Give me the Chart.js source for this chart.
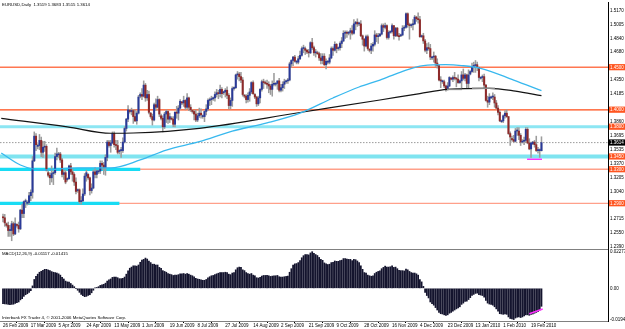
<!DOCTYPE html>
<html><head><meta charset="utf-8">
<script src="https://cdn.jsdelivr.net/npm/chart.js"></script>
<style>
html,body{margin:0;padding:0;background:#fff;width:625px;height:329px;overflow:hidden;position:relative;font-family:"Liberation Sans",Arial,sans-serif;}
#mainWrap{position:absolute;left:0;top:-2px;width:625px;height:255px;}
#macdWrap{position:absolute;left:0;top:244px;width:625px;height:85px;}
.txt{position:absolute;left:2px;font-size:6px;line-height:6px;color:#000;white-space:nowrap;transform:scale(0.72);transform-origin:left top;}
#sep{position:absolute;left:0;top:249px;width:608px;height:1px;background:#808080;}
</style></head><body>
<div id="mainWrap"><canvas id="main"></canvas></div>
<div id="macdWrap"><canvas id="macd"></canvas></div>
<div id="sep"></div>
<div class="txt" style="top:2px">EURUSD,Daily&nbsp; 1.3519 1.3683 1.3515 1.3614</div>
<div class="txt" style="top:251px">MACD(12,26,9) -0.01117 -0.01415</div>
<div class="txt" style="top:315px">Interbank FX Trader 4, © 2001-2006 MetaQuotes Software Corp.</div>
<script>
// ---- daily bars (incl. Sunday bars), 26 Feb 2009 .. 26 Feb 2010 ----
const opens=[
1.2740,1.2730,1.2660,1.2640,1.2580,1.2580,1.2660,1.2540,1.2650,1.2640,
1.2600,1.2820,1.2780,1.2920,1.2900,1.2910,1.2990,1.3030,1.3400,1.3690,
1.3570,1.3580,1.3640,1.3500,1.3560,1.3570,1.3260,1.3230,1.3200,1.3250,
1.3260,1.3450,1.3470,1.3480,1.3410,1.3240,1.3260,1.3180,1.3190,1.3340,
1.3270,1.3240,1.3150,1.3050,1.3060,1.2920,1.2930,1.3010,1.3220,1.3240,
1.3200,1.3050,1.3080,1.3270,1.3240,1.3270,1.3280,1.3370,1.3350,1.3320,
1.3440,1.3620,1.3580,1.3610,1.3720,1.3590,1.3580,1.3510,1.3520,1.3520,
1.3620,1.3780,1.3890,1.3990,1.3980,1.3990,1.3920,1.3870,1.3960,1.4160,
1.4180,1.4160,1.4290,1.4140,1.4180,1.3960,1.3920,1.3880,1.4060,1.4030,
1.4120,1.3930,1.3900,1.3800,1.3950,1.3980,1.3890,1.3900,1.3890,1.3830,
1.3970,1.3960,1.4020,1.4090,1.4080,1.4110,1.4030,1.4140,1.4030,1.3990,
1.3980,1.3950,1.3880,1.3930,1.3960,1.3920,1.3920,1.3980,1.4010,1.4110,
1.4120,1.4130,1.4140,1.4180,1.4200,1.4190,1.4240,1.4200,1.4210,1.4230,
1.4170,1.4050,1.4110,1.4250,1.4260,1.4410,1.4420,1.4390,1.4350,1.4170,
1.4160,1.4120,1.4170,1.4210,1.4320,1.4180,1.4150,1.4070,1.4140,1.4240,
1.4330,1.4320,1.4310,1.4300,1.4280,1.4240,1.4300,1.4300,1.4310,1.4340,
1.4230,1.4260,1.4300,1.4330,1.4340,1.4350,1.4540,1.4580,1.4620,1.4560,
1.4560,1.4600,1.4640,1.4720,1.4720,1.4700,1.4680,1.4670,1.4790,1.4730,
1.4670,1.4670,1.4660,1.4610,1.4580,1.4630,1.4530,1.4560,1.4560,1.4610,
1.4720,1.4700,1.4770,1.4720,1.4730,1.4780,1.4810,1.4900,1.4910,1.4900,
1.4910,1.4930,1.4900,1.5010,1.5030,1.5010,1.5010,1.4870,1.4830,1.4750,
1.4860,1.4710,1.4700,1.4750,1.4770,1.4880,1.4860,1.4870,1.4890,1.4990,
1.4970,1.4990,1.4850,1.4910,1.4920,1.4990,1.4870,1.4960,1.4870,1.4870,
1.4880,1.4960,1.4970,1.5130,1.5000,1.4990,1.5000,1.5010,1.5090,1.5070,
1.5060,1.4860,1.4870,1.4810,1.4700,1.4730,1.4720,1.4610,1.4620,1.4630,
1.4550,1.4520,1.4350,1.4330,1.4330,1.4280,1.4240,1.4280,1.4370,1.4360,
1.4380,1.4370,1.4360,1.4320,1.4340,1.4410,1.4370,1.4410,1.4310,1.4420,
1.4450,1.4510,1.4520,1.4530,1.4500,1.4370,1.4380,1.4390,1.4290,1.4110,
1.4090,1.4140,1.4150,1.4150,1.4080,1.4020,1.3970,1.3860,1.3870,1.3930,
1.3960,1.3920,1.3720,1.3660,1.3650,1.3630,1.3750,1.3750,1.3700,1.3620,
1.3630,1.3640,1.3770,1.3610,1.3540,1.3600,1.3620,1.3590,1.3520,1.3520,1.3519];
const highs=[
1.2775,1.2770,1.2670,1.2680,1.2640,1.2690,1.2680,1.2730,1.2660,1.2680,
1.2830,1.2890,1.2930,1.2950,1.2930,1.3030,1.3060,1.3450,1.3740,1.3720,
1.3600,1.3710,1.3680,1.3630,1.3630,1.3590,1.3280,1.3260,1.3340,1.3280,
1.3490,1.3550,1.3500,1.3500,1.3430,1.3290,1.3290,1.3200,1.3350,1.3370,
1.3310,1.3260,1.3200,1.3070,1.3070,1.2980,1.3070,1.3250,1.3290,1.3250,
1.3210,1.3130,1.3290,1.3320,1.3290,1.3290,1.3400,1.3400,1.3380,1.3470,
1.3640,1.3640,1.3640,1.3740,1.3740,1.3640,1.3640,1.3530,1.3560,1.3670,
1.3800,1.3900,1.4050,1.4000,1.4020,1.4000,1.4000,1.3980,1.4170,1.4200,
1.4250,1.4340,1.4310,1.4230,1.4220,1.3970,1.3950,1.4080,1.4130,1.4160,
1.4130,1.3950,1.3930,1.3970,1.4000,1.3990,1.3960,1.3920,1.3920,1.3980,
1.4040,1.4050,1.4120,1.4100,1.4160,1.4120,1.4190,1.4150,1.4060,1.4000,
1.3990,1.4000,1.3960,1.4020,1.4010,1.3940,1.3990,1.4060,1.4130,1.4140,
1.4160,1.4150,1.4210,1.4240,1.4230,1.4290,1.4260,1.4220,1.4250,1.4270,
1.4190,1.4140,1.4270,1.4270,1.4420,1.4450,1.4440,1.4440,1.4380,1.4180,
1.4180,1.4200,1.4250,1.4330,1.4340,1.4190,1.4160,1.4160,1.4250,1.4350,
1.4360,1.4340,1.4350,1.4330,1.4300,1.4340,1.4430,1.4320,1.4340,1.4370,
1.4300,1.4330,1.4360,1.4350,1.4370,1.4560,1.4590,1.4630,1.4640,1.4580,
1.4630,1.4690,1.4740,1.4760,1.4740,1.4710,1.4710,1.4800,1.4840,1.4750,
1.4710,1.4690,1.4680,1.4660,1.4660,1.4660,1.4600,1.4580,1.4650,1.4740,
1.4740,1.4800,1.4780,1.4740,1.4800,1.4850,1.4930,1.4930,1.4930,1.4920,
1.4960,1.4990,1.5060,1.5040,1.5070,1.5030,1.5050,1.4880,1.4840,1.4880,
1.4880,1.4720,1.4780,1.4790,1.4930,1.4900,1.4900,1.4900,1.5010,1.5010,
1.5020,1.5000,1.4930,1.4930,1.5010,1.4990,1.4970,1.4970,1.4900,1.4890,
1.4990,1.4990,1.5140,1.5140,1.5020,1.5010,1.5060,1.5110,1.5100,1.5140,
1.5100,1.4880,1.4900,1.4830,1.4780,1.4790,1.4770,1.4630,1.4680,1.4640,
1.4600,1.4530,1.4390,1.4350,1.4350,1.4290,1.4320,1.4390,1.4380,1.4400,
1.4440,1.4380,1.4410,1.4350,1.4450,1.4480,1.4430,1.4420,1.4470,1.4460,
1.4550,1.4560,1.4580,1.4560,1.4500,1.4390,1.4410,1.4420,1.4300,1.4160,
1.4190,1.4160,1.4200,1.4180,1.4110,1.4050,1.3990,1.3880,1.3940,1.3990,
1.4000,1.3920,1.3740,1.3690,1.3700,1.3780,1.3790,1.3790,1.3720,1.3650,
1.3680,1.3790,1.3790,1.3660,1.3620,1.3630,1.3640,1.3690,1.3560,1.3540,1.3683];
const lows=[
1.2680,1.2630,1.2620,1.2510,1.2510,1.2460,1.2520,1.2530,1.2620,1.2560,
1.2590,1.2730,1.2730,1.2850,1.2880,1.2890,1.2930,1.2960,1.3390,1.3520,
1.3540,1.3530,1.3450,1.3440,1.3510,1.3280,1.3210,1.3120,1.3150,1.3120,
1.3240,1.3410,1.3440,1.3380,1.3210,1.3180,1.3130,1.3160,1.3180,1.3240,
1.3160,1.3110,1.3010,1.3030,1.2900,1.2890,1.2920,1.2990,1.3160,1.3180,
1.3000,1.3020,1.3070,1.3200,1.3200,1.3250,1.3250,1.3300,1.3240,1.3230,
1.3400,1.3560,1.3500,1.3600,1.3560,1.3530,1.3480,1.3480,1.3440,1.3500,
1.3610,1.3750,1.3860,1.3960,1.3940,1.3840,1.3860,1.3830,1.3950,1.4140,
1.4120,1.4150,1.4100,1.4110,1.3950,1.3900,1.3820,1.3870,1.3990,1.4020,
1.3920,1.3880,1.3740,1.3780,1.3850,1.3840,1.3850,1.3880,1.3800,1.3800,
1.3900,1.3880,1.4000,1.4060,1.4040,1.4000,1.4010,1.3990,1.3980,1.3960,
1.3880,1.3860,1.3860,1.3910,1.3900,1.3900,1.3860,1.3940,1.3990,1.4050,
1.4060,1.4110,1.4100,1.4150,1.4130,1.4150,1.4140,1.4180,1.4150,1.4130,
1.4010,1.4010,1.4040,1.4230,1.4250,1.4360,1.4340,1.4320,1.4160,1.4140,
1.4080,1.4090,1.4100,1.4190,1.4180,1.4130,1.4040,1.4050,1.4080,1.4220,
1.4250,1.4300,1.4250,1.4200,1.4180,1.4160,1.4280,1.4280,1.4240,1.4210,
1.4210,1.4220,1.4250,1.4310,1.4310,1.4340,1.4500,1.4520,1.4560,1.4540,
1.4540,1.4590,1.4630,1.4670,1.4650,1.4660,1.4620,1.4660,1.4710,1.4640,
1.4620,1.4650,1.4580,1.4540,1.4540,1.4520,1.4480,1.4540,1.4540,1.4600,
1.4640,1.4690,1.4670,1.4700,1.4700,1.4730,1.4800,1.4840,1.4850,1.4880,
1.4830,1.4880,1.4890,1.4940,1.4980,1.4990,1.4860,1.4760,1.4690,1.4740,
1.4700,1.4680,1.4660,1.4690,1.4750,1.4800,1.4780,1.4860,1.4880,1.4920,
1.4950,1.4830,1.4830,1.4900,1.4900,1.4830,1.4860,1.4860,1.4820,1.4860,
1.4870,1.4930,1.4960,1.4970,1.4830,1.4970,1.4940,1.5000,1.5040,1.5020,
1.4850,1.4850,1.4780,1.4680,1.4660,1.4700,1.4590,1.4590,1.4560,1.4510,
1.4490,1.4340,1.4260,1.4310,1.4260,1.4220,1.4230,1.4270,1.4350,1.4330,
1.4350,1.4270,1.4310,1.4310,1.4260,1.4350,1.4340,1.4260,1.4260,1.4410,
1.4440,1.4440,1.4440,1.4460,1.4340,1.4360,1.4330,1.4260,1.4100,1.4030,
1.4060,1.4130,1.4120,1.4030,1.4010,1.3940,1.3860,1.3850,1.3850,1.3900,
1.3910,1.3710,1.3580,1.3630,1.3620,1.3620,1.3700,1.3650,1.3580,1.3610,
1.3590,1.3620,1.3600,1.3530,1.3440,1.3590,1.3560,1.3510,1.3490,1.3440,1.3515];
const closes=[
1.2730,1.2670,1.2640,1.2580,1.2580,1.2660,1.2540,1.2660,1.2640,1.2600,
1.2820,1.2780,1.2920,1.2920,1.2910,1.2990,1.3030,1.3400,1.3690,1.3590,
1.3580,1.3640,1.3500,1.3560,1.3570,1.3290,1.3230,1.3200,1.3250,1.3260,
1.3450,1.3480,1.3480,1.3410,1.3240,1.3260,1.3150,1.3190,1.3340,1.3270,
1.3240,1.3150,1.3040,1.3060,1.2920,1.2930,1.3010,1.3220,1.3260,1.3200,
1.3050,1.3080,1.3270,1.3240,1.3280,1.3280,1.3370,1.3350,1.3320,1.3440,
1.3620,1.3580,1.3610,1.3720,1.3590,1.3580,1.3500,1.3520,1.3520,1.3620,
1.3780,1.3890,1.4000,1.3980,1.3990,1.3920,1.3870,1.3960,1.4150,1.4180,
1.4160,1.4290,1.4140,1.4180,1.3970,1.3920,1.3880,1.4060,1.4030,1.4120,
1.3950,1.3900,1.3800,1.3950,1.3980,1.3890,1.3920,1.3890,1.3830,1.3970,
1.3960,1.4020,1.4100,1.4080,1.4110,1.4030,1.4140,1.4030,1.4000,1.3980,
1.3950,1.3880,1.3930,1.3960,1.3940,1.3920,1.3980,1.4010,1.4110,1.4120,
1.4130,1.4140,1.4180,1.4200,1.4190,1.4240,1.4190,1.4210,1.4230,1.4170,
1.4050,1.4110,1.4250,1.4260,1.4410,1.4420,1.4390,1.4350,1.4180,1.4160,
1.4120,1.4170,1.4210,1.4320,1.4190,1.4150,1.4070,1.4140,1.4240,1.4330,
1.4320,1.4310,1.4300,1.4280,1.4240,1.4300,1.4310,1.4310,1.4340,1.4230,
1.4260,1.4300,1.4330,1.4340,1.4350,1.4540,1.4580,1.4620,1.4570,1.4560,
1.4600,1.4640,1.4720,1.4720,1.4700,1.4680,1.4670,1.4790,1.4730,1.4670,
1.4680,1.4660,1.4610,1.4580,1.4630,1.4530,1.4570,1.4560,1.4610,1.4720,
1.4700,1.4770,1.4720,1.4730,1.4780,1.4810,1.4900,1.4910,1.4900,1.4910,
1.4930,1.4900,1.5010,1.5030,1.5010,1.5010,1.4870,1.4830,1.4750,1.4860,
1.4720,1.4700,1.4750,1.4770,1.4880,1.4860,1.4860,1.4890,1.4990,1.4970,
1.4990,1.4850,1.4910,1.4920,1.4990,1.4870,1.4960,1.4870,1.4860,1.4880,
1.4960,1.4970,1.5130,1.5000,1.4990,1.5000,1.5010,1.5090,1.5070,1.5060,
1.4860,1.4870,1.4810,1.4700,1.4730,1.4720,1.4620,1.4620,1.4630,1.4550,
1.4520,1.4350,1.4340,1.4330,1.4280,1.4240,1.4280,1.4380,1.4360,1.4380,
1.4370,1.4360,1.4320,1.4340,1.4410,1.4370,1.4410,1.4310,1.4410,1.4450,
1.4510,1.4520,1.4530,1.4500,1.4380,1.4380,1.4390,1.4290,1.4110,1.4090,
1.4150,1.4150,1.4150,1.4080,1.4020,1.3970,1.3870,1.3870,1.3930,1.3960,
1.3920,1.3720,1.3680,1.3650,1.3630,1.3750,1.3750,1.3700,1.3620,1.3630,
1.3640,1.3770,1.3610,1.3540,1.3610,1.3620,1.3590,1.3520,1.3520,1.3520,1.3614];
// ---- MACD(12,26,9) main histogram ----
const macdHist=[
-0.0095,-0.0097,-0.0098,-0.0100,-0.0102,-0.0100,-0.0099,-0.0094,-0.0090,-0.0085,
-0.0072,-0.0064,-0.0050,-0.0040,-0.0034,-0.0025,-0.0015,0.0015,0.0055,0.0075,
0.0088,0.0100,0.0106,0.0112,0.0118,0.0118,0.0114,0.0110,0.0104,0.0100,
0.0098,0.0095,0.0090,0.0082,0.0068,0.0058,0.0045,0.0040,0.0038,0.0030,
0.0020,0.0010,0.0000,-0.0012,-0.0025,-0.0038,-0.0046,-0.0052,-0.0050,-0.0045,
-0.0040,-0.0028,-0.0012,0.0002,0.0005,0.0010,0.0018,0.0022,0.0025,0.0032,
0.0045,0.0052,0.0058,0.0068,0.0070,0.0070,0.0066,0.0060,0.0060,0.0062,
0.0070,0.0088,0.0108,0.0125,0.0132,0.0140,0.0140,0.0138,0.0145,0.0162,
0.0175,0.0180,0.0188,0.0182,0.0170,0.0160,0.0150,0.0150,0.0145,0.0145,
0.0130,0.0125,0.0110,0.0105,0.0100,0.0092,0.0088,0.0085,0.0080,0.0082,
0.0082,0.0085,0.0090,0.0090,0.0092,0.0088,0.0092,0.0088,0.0082,0.0078,
0.0072,0.0062,0.0058,0.0056,0.0052,0.0050,0.0050,0.0055,0.0065,0.0072,
0.0078,0.0080,0.0085,0.0090,0.0094,0.0098,0.0098,0.0098,0.0100,0.0098,
0.0088,0.0085,0.0095,0.0098,0.0115,0.0128,0.0132,0.0130,0.0115,0.0110,
0.0098,0.0092,0.0088,0.0092,0.0082,0.0078,0.0066,0.0064,0.0068,0.0076,
0.0080,0.0080,0.0080,0.0078,0.0074,0.0076,0.0078,0.0078,0.0080,0.0072,
0.0070,0.0070,0.0072,0.0074,0.0076,0.0100,0.0122,0.0145,0.0152,0.0154,
0.0160,0.0172,0.0190,0.0203,0.0210,0.0210,0.0208,0.0220,0.02277,0.0218,
0.0210,0.0204,0.0192,0.0180,0.0174,0.0158,0.0152,0.0148,0.0150,0.0160,
0.0162,0.0170,0.0168,0.0168,0.0172,0.0175,0.0185,0.0185,0.0182,0.0180,
0.0180,0.0172,0.0180,0.0178,0.0170,0.0160,0.0140,0.0118,0.0098,0.0095,
0.0082,0.0078,0.0075,0.0078,0.0092,0.0100,0.0105,0.0108,0.0122,0.0130,
0.0138,0.0132,0.0132,0.0134,0.0140,0.0130,0.0132,0.0122,0.0112,0.0110,
0.0110,0.0108,0.0120,0.0115,0.0105,0.0098,0.0095,0.0095,0.0090,0.0082,
0.0055,0.0040,0.0012,-0.0025,-0.0045,-0.0060,-0.0085,-0.0095,-0.0105,-0.0120,
-0.0135,-0.0150,-0.0158,-0.0160,-0.0165,-0.0168,-0.0165,-0.0155,-0.0150,-0.0142,
-0.0135,-0.0128,-0.0122,-0.0115,-0.0100,-0.0092,-0.0082,-0.0080,-0.0070,-0.0058,
-0.0045,-0.0038,-0.0032,-0.0030,-0.0040,-0.0042,-0.0045,-0.0055,-0.0075,-0.0092,
-0.0098,-0.0100,-0.0105,-0.0115,-0.0128,-0.0142,-0.0158,-0.0160,-0.0162,-0.0160,
-0.0162,-0.0178,-0.0188,-0.0190,-0.01944,-0.0185,-0.0180,-0.0178,-0.0182,-0.0178,
-0.0172,-0.0165,-0.0165,-0.0168,-0.0162,-0.0160,-0.0155,-0.0150,-0.0145,-0.0135,-0.0112];
// ---- moving averages read at sample bars ----
const blueMaIdx=[-1,10,23,43,62,79,94,113,132,152,171,190,205,217,229,242,255,264,275,294,310];
const blueMaVal=[1.3492,1.3351,1.3292,1.3316,1.3316,1.3410,1.3527,1.3625,1.3750,1.3845,1.3960,1.4139,1.4268,1.4350,1.4444,1.4520,1.4530,1.4520,1.4488,1.4350,1.4225];
const blackMaIdx=[-1,37,62,75,113,171,217,240,256,280,295,310];
const blackMaVal=[1.3900,1.3800,1.3724,1.3727,1.3782,1.3968,1.4115,1.4191,1.4240,1.4253,1.4220,1.4166];
// ---- horizontal levels & drawn objects ----
const levelPrices=[1.4500,1.4000,1.3800,1.3450,1.3300,1.2900];
const currentPrice=1.3614;
const cyanSegEndIdx=[79,67];          // thick cyan parts of 1.3300 and 1.2900 lines
const grayNeckIdx=[[255.6,264.2],[270,283.2]];
const grayNeckVal=[1.4240,1.4253];
const magentaIdx=[301.7,310.3], magentaVal=1.3418;
const macdMagIdx=[303,310.7], macdMagVal=[-0.01586,-0.01289];
// ---- ticks ----
const priceTicks=[1.5170,1.5005,1.4840,1.4680,1.4350,1.4185,1.3860,1.3695,1.3535,1.3370,1.3205,1.3040,1.2715,1.2550,1.2390];
const macdTicks=[0.02277,0,-0.01944];
const dateTickIdx=[0,16,32,48,64,80,96,112,128,144,160,176,192,208,224,240,256,272,288,304];
const dateTickLabels=['26 Feb 2009','17 Mar 2009','5 Apr 2009','24 Apr 2009','13 May 2009','1 Jun 2009','19 Jun 2009','8 Jul 2009','27 Jul 2009','14 Aug 2009','2 Sep 2009','21 Sep 2009','9 Oct 2009','28 Oct 2009','16 Nov 2009','4 Dec 2009','23 Dec 2009','13 Jan 2010','1 Feb 2010','19 Feb 2010'];

// ---- layout constants ----
const X_MIN=-1.73, X_MAX=348.3;
const Y_MIN=1.23629, Y_MAX=1.52676;
const M_MIN=-0.02034, M_MAX=0.02383;
const BULL='#2a3a98', BEAR='#8e2a2a', WICK='#9c9c9c', LVL='#ff5520';
const FONT={family:'"Liberation Sans", Arial, sans-serif', size:4.5};

const idx=closes.map((_,i)=>i);
const wickData=idx.map(i=>({x:i,y:[lows[i],highs[i]]}));
const bodyData=idx.map(i=>({x:i,y:[Math.min(opens[i],closes[i]),Math.max(opens[i],closes[i])]}));
const bodyColors=idx.map(i=>closes[i]>=opens[i]?BULL:BEAR);

function seg(x0,x1,y,color,w,dash,order){
  return {type:'line',data:[{x:x0,y:y},{x:x1,y:y}],borderColor:color,borderWidth:w,borderDash:dash||[],pointRadius:0,order:order==null?10:order,tension:0};
}
const lvlStyles=[
  [{c:'rgba(255,95,50,0.85)',w:1.3}],
  [{c:'#ff4a14',w:1.3}],
  [{c:'#8ce6f3',w:3},{c:'#c8582a',w:1,d:[1,1]}],
  [{c:'#7fe4f0',w:4},{c:'#5e9482',w:2.2}],
  [{c:'#ffa08a',w:1.4}],
  [{c:'#ffa08a',w:1.4}]
];
const lineSets=[];
levelPrices.forEach((p,k)=>lvlStyles[k].forEach(s=>lineSets.push(seg(X_MIN,X_MAX,p,s.c,s.w,s.d))));
lineSets.push(seg(X_MIN,cyanSegEndIdx[0],levelPrices[4],'#18dcf4',3.2,null,9));
lineSets.push(seg(X_MIN,cyanSegEndIdx[1],levelPrices[5],'#18dcf4',3.2,null,9));
lineSets.push(seg(X_MIN,X_MAX,currentPrice,'#9a9a9a',1,[1.5,1.5]));
grayNeckIdx.forEach((r,k)=>lineSets.push(seg(r[0],r[1],grayNeckVal[k],'#8a8a8a',1.5,null,1)));
lineSets.push(seg(magentaIdx[0],magentaIdx[1],magentaVal,'#ff30ff',1.5,null,1));

function tickKind(v){
  if(Math.abs(v-currentPrice)<1e-7) return 'cur';
  if(levelPrices.some(p=>Math.abs(p-v)<1e-7)) return 'lvl';
  return 'reg';
}
const allPriceTicks=priceTicks.concat(levelPrices,[currentPrice]).sort((a,b)=>b-a);

new Chart(document.getElementById('main'),{
  type:'bar',
  data:{datasets:[
    ...lineSets,
    {type:'line',data:blueMaIdx.map((x,k)=>({x:x,y:blueMaVal[k]})),borderColor:'#38b8ee',borderWidth:1.3,pointRadius:0,cubicInterpolationMode:'monotone',order:2},
    {type:'line',data:blackMaIdx.map((x,k)=>({x:x,y:blackMaVal[k]})),borderColor:'#141414',borderWidth:1.2,pointRadius:0,cubicInterpolationMode:'monotone',order:2},
    {type:'bar',data:wickData,backgroundColor:WICK,barThickness:0.9,grouped:false,borderWidth:0,order:4},
    {type:'bar',data:bodyData,backgroundColor:bodyColors,barThickness:1.4,grouped:false,borderWidth:0,minBarLength:1,order:3}
  ]},
  options:{
    responsive:true,maintainAspectRatio:false,animation:false,
    layout:{padding:{left:0,right:0,top:4,bottom:4}},
    plugins:{legend:{display:false},tooltip:{enabled:false}},
    scales:{
      x:{type:'linear',min:X_MIN,max:X_MAX,offset:false,display:false},
      y:{position:'right',min:Y_MIN,max:Y_MAX,
        afterBuildTicks:s=>{s.ticks=allPriceTicks.map(v=>({value:v}));},
        afterFit:s=>{s.width=17;},
        grid:{drawOnChartArea:false,drawTicks:true,tickLength:1,color:'#000'},
        border:{display:true,color:'#000',width:1},
        ticks:{autoSkip:false,padding:1,font:FONT,
          callback:v=>Number(v).toFixed(4),
          color:c=>tickKind(c.tick.value)==='reg'?'#000':'#fff',
          showLabelBackdrop:c=>tickKind(c.tick.value)!=='reg',
          backdropColor:c=>tickKind(c.tick.value)==='cur'?'#000':LVL,
          backdropPadding:{top:0.5,bottom:0.3,left:1,right:6}}
      }
    }
  }
});

new Chart(document.getElementById('macd'),{
  type:'bar',
  data:{datasets:[
    {type:'line',data:[{x:macdMagIdx[0],y:macdMagVal[0]},{x:macdMagIdx[1],y:macdMagVal[1]}],borderColor:'#ff30ff',borderWidth:1.5,pointRadius:0,order:1},
    {type:'bar',data:idx.map(i=>({x:i,y:macdHist[i]})),backgroundColor:'#14142e',barThickness:1.1,grouped:false,borderWidth:0,order:2}
  ]},
  options:{
    responsive:true,maintainAspectRatio:false,animation:false,
    layout:{padding:{left:0,right:0,top:6,bottom:0}},
    plugins:{legend:{display:false},tooltip:{enabled:false}},
    scales:{
      x:{type:'linear',min:X_MIN,max:X_MAX,offset:false,position:'bottom',
        afterBuildTicks:s=>{s.ticks=dateTickIdx.map(v=>({value:v}));},
        afterFit:s=>{s.height=8;},
        grid:{drawOnChartArea:false,drawTicks:true,tickLength:2,color:'#000'},
        border:{display:true,color:'#808080',width:1},
        ticks:{autoSkip:false,maxRotation:0,minRotation:0,align:'start',padding:0,font:FONT,color:'#000',
          callback:(v,i)=>dateTickLabels[i]}
      },
      y:{position:'right',min:M_MIN,max:M_MAX,
        afterBuildTicks:s=>{s.ticks=macdTicks.map(v=>({value:v}));},
        afterFit:s=>{s.width=17;},
        grid:{drawOnChartArea:false,drawTicks:true,tickLength:1,color:'#000'},
        border:{display:true,color:'#000',width:1},
        ticks:{autoSkip:false,padding:1,font:FONT,color:'#000',
          callback:v=>v===0?'0.00':Number(v).toFixed(5)}
      }
    }
  }
});
</script>
</body></html>
